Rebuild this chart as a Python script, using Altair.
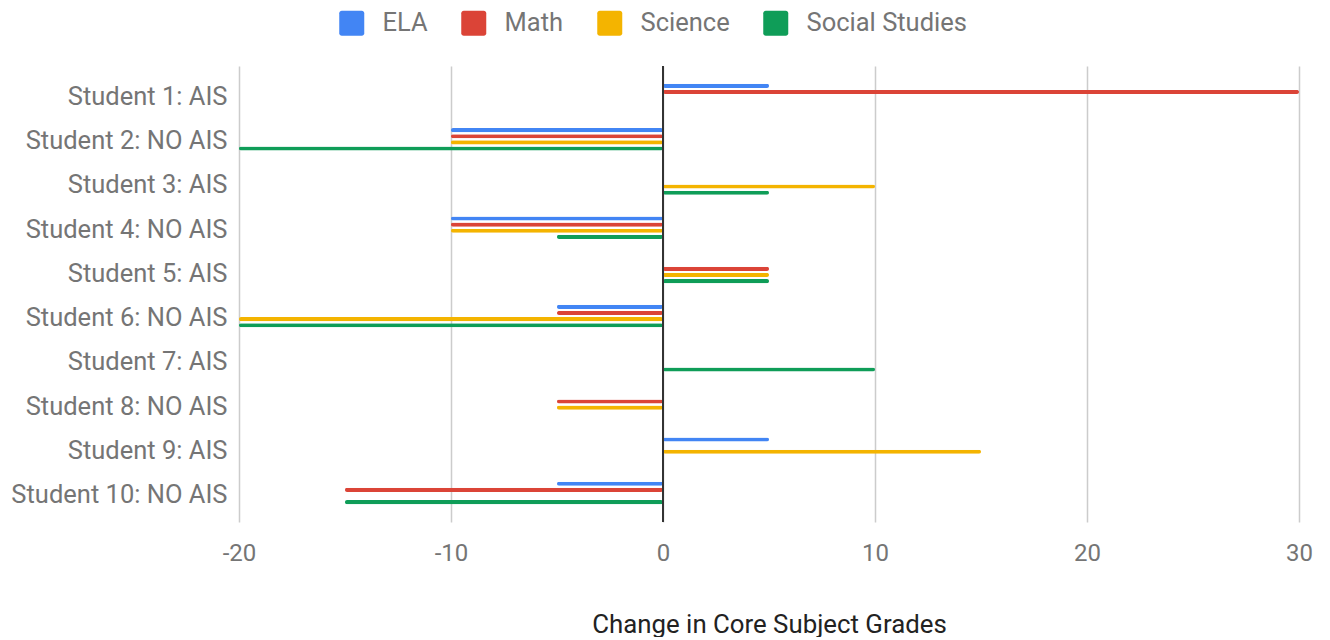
import altair as alt
import pandas as pd

students = [
    "Student 1: AIS", "Student 2: NO AIS", "Student 3: AIS", "Student 4: NO AIS",
    "Student 5: AIS", "Student 6: NO AIS", "Student 7: AIS", "Student 8: NO AIS",
    "Student 9: AIS", "Student 10: NO AIS",
]
subjects = ["ELA", "Math", "Science", "Social Studies"]
colors = ["#4285F4", "#DB4437", "#F4B400", "#0F9D58"]

ela = [5, -10, 0, -10, 0, -5, 0, 0, 5, -5]
math = [30, -10, 0, -10, 5, -5, 0, -5, 0, -15]
science = [0, -10, 10, -10, 5, -20, 0, -5, 15, 0]
social = [0, -20, 5, -5, 5, -20, 10, 0, 0, -15]

x_ticks = [-20, -10, 0, 10, 20, 30]

rows = []
for subj, vals in zip(subjects, [ela, math, science, social]):
    for s, v in zip(students, vals):
        rows.append({"student": s, "subject": subj, "value": v})
df = pd.DataFrame(rows)
zero_df = pd.DataFrame({"x": [0]})

FONT = "Roboto"
rounded_square = ("M-1,-0.8 A0.2,0.2 0 0 1 -0.8,-1 H0.8 A0.2,0.2 0 0 1 1,-0.8 "
                  "V0.8 A0.2,0.2 0 0 1 0.8,1 H-0.8 A0.2,0.2 0 0 1 -1,0.8 Z")

bars = alt.Chart(df).transform_filter("datum.value != 0").mark_bar(
    cornerRadius=2
).encode(
    x=alt.X("value:Q",
            scale=alt.Scale(domain=[-20, 30], nice=False, zero=False),
            axis=alt.Axis(values=x_ticks, title="Change in Core Subject Grades",
                          labelExpr="'' + datum.value", labelFlush=False,
                          domain=False, ticks=False, grid=True,
                          gridColor="#cccccc", gridWidth=1.5,
                          labelFont=FONT, labelFontSize=24, labelColor="#757575",
                          labelBaseline="middle", labelPadding=31,
                          titleFont=FONT, titleFontSize=25.8, titleFontWeight="normal",
                          titleColor="#222222", titleBaseline="middle", titleY=102)),
    y=alt.Y("student:N", sort=students,
            scale=alt.Scale(paddingInner=0.49, paddingOuter=0.403),
            axis=alt.Axis(title=None, domain=False, ticks=False, grid=False,
                          labelFont=FONT, labelFontSize=25.5, labelColor="#757575",
                          labelPadding=12, labelLimit=400, labelOffset=2)),
    yOffset=alt.YOffset("subject:N", sort=subjects,
                        scale=alt.Scale(paddingInner=0.33, paddingOuter=0)),
    color=alt.Color("subject:N", sort=subjects,
                    scale=alt.Scale(domain=subjects, range=colors),
                    legend=alt.Legend(title=None, orient="none", direction="horizontal",
                                      legendX=100, legendY=-56, padding=0,
                                      symbolType=rounded_square, symbolSize=625,
                                      symbolStrokeWidth=0, symbolOpacity=1,
                                      labelFont=FONT, labelFontSize=25.5,
                                      labelColor="#757575", labelOffset=18,
                                      labelLimit=400, columnPadding=33)),
)

zero_rule = alt.Chart(zero_df).mark_rule(color="#333333", strokeWidth=2).encode(
    x=alt.X("x:Q")
)

chart = alt.layer(bars, zero_rule).properties(
    width=1060, height=456, background="white",
    padding={"left": 2, "top": 2, "right": 0, "bottom": 0},
).configure_view(strokeWidth=0, stroke="transparent")

chart.save("out.html", embed_options={"renderer": "svg", "actions": False})
